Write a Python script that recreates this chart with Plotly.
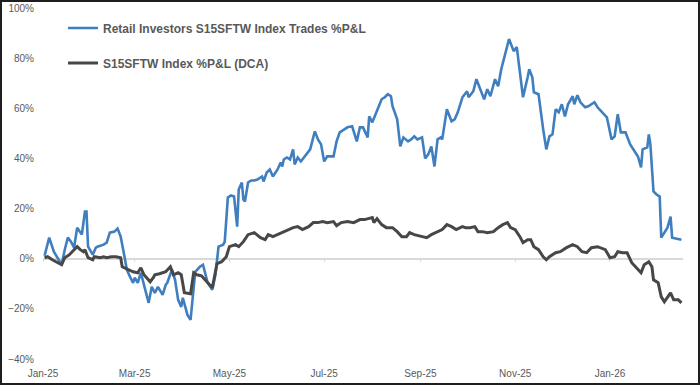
import pandas as pd
import plotly.graph_objects as go

START = "2025-01-01"

# Retail Investors S15SFTW Index Trades %P&L  (day = days since 2025-01-01)
blue_day = [1, 4, 7, 10, 12, 14, 16, 18, 20, 22, 24, 25, 27, 28, 29, 31, 32, 34, 35, 39,
            41, 43, 46, 48, 50, 52, 54, 56, 58, 59, 61, 63, 66, 68, 70, 72, 74, 77, 79, 80,
            83, 85, 87, 89, 90, 93, 95, 98, 101, 103, 106, 109, 111, 113, 116, 117, 119, 121, 123, 125,
            126, 128, 129, 130, 132, 134, 136, 138, 141, 142, 144, 146, 148, 151, 153, 154, 155, 157, 159, 161,
            162, 164, 166, 168, 170, 172, 175, 177, 179, 181, 183, 187, 189, 191, 194, 196, 199, 202, 204, 206,
            209, 210, 212, 214, 216, 218, 220, 222, 224, 225, 228, 230, 232, 235, 237, 239, 241, 244, 246, 248,
            250, 252, 254, 256, 257, 260, 263, 265, 267, 270, 273, 274, 277, 279, 281, 284, 286, 288, 291, 293,
            295, 297, 300, 303, 305, 307, 309, 312, 313, 315, 316, 319, 321, 322, 324, 326, 328, 330, 332, 334,
            336, 338, 341, 342, 344, 346, 349, 351, 355, 357, 363, 366, 368, 370, 372, 375, 378, 381, 383, 385,
            386, 389, 390, 391, 393, 395, 397, 398, 402, 404, 405, 408, 411]
blue_pct = [1.2, 8.4, 2.8, -0.4, -2.4, 3.6, 8.4, 6.8, 4.4, 12.4, 10.8, 9.6, 18.8, 18.8, 4.8, 2.8, 1.6, 4.4, 4.8, 5.6,
            6.4, 10.4, 10.8, 12.0, 8.8, 2.4, -4.4, -7.2, -9.6, -7.6, -9.6, -5.6, -12.4, -17.6, -11.2, -13.6, -11.2, -14.4, -10.4, -9.6,
            -4.4, -8.4, -16.4, -19.2, -15.6, -22.4, -24.4, -5.2, -3.2, -2.4, -9.6, -12.4, -6.4, 4.8, 5.6, 6.8, 24.4, 25.2, 24.8, 12.8,
            27.6, 30.4, 23.6, 22.8, 30.4, 31.2, 31.2, 31.6, 32.8, 30.8, 34.4, 35.6, 32.8, 35.6, 38.4, 36.8, 39.6, 40.4, 39.6, 43.6,
            37.6, 40.4, 38.8, 40.4, 41.6, 43.6, 50.8, 47.6, 45.6, 38.8, 40.8, 40.8, 46.8, 50.4, 51.6, 52.4, 52.8, 46.8, 52.4, 52.4,
            48.4, 56.8, 54.4, 57.6, 60.4, 63.6, 64.4, 65.6, 64.8, 60.8, 55.6, 44.8, 48.4, 46.8, 47.6, 48.8, 47.6, 48.4, 40.0, 41.6,
            44.8, 36.8, 47.6, 48.4, 47.6, 59.6, 54.8, 55.6, 58.4, 64.4, 66.8, 64.4, 66.8, 71.6, 68.4, 63.6, 67.6, 64.8, 71.6, 68.8,
            75.6, 80.8, 87.6, 82.8, 84.4, 74.4, 64.4, 72.4, 75.6, 72.4, 66.4, 65.6, 55.6, 51.6, 43.6, 48.8, 49.6, 59.6, 58.4, 61.6,
            56.8, 61.6, 64.8, 61.6, 65.2, 62.4, 60.4, 60.8, 62.4, 60.4, 56.4, 47.6, 48.8, 57.6, 50.4, 50.4, 45.6, 42.8, 40.8, 36.4,
            43.6, 44.4, 49.6, 45.6, 26.8, 25.6, 24.8, 8.4, 12.4, 16.8, 8.4, 8.0, 7.6]

# S15SFTW Index %P&L (DCA)
dca_day = [1, 3, 6, 10, 12, 14, 17, 20, 22, 24, 26, 27, 29, 32, 33, 37, 39, 41, 44, 47,
           50, 51, 55, 58, 61, 63, 65, 68, 69, 71, 72, 75, 79, 82, 84, 87, 89, 91, 95, 97,
           99, 102, 106, 109, 112, 115, 118, 120, 124, 126, 129, 132, 136, 140, 143, 145, 148, 151, 154, 158,
           161, 164, 167, 171, 174, 177, 180, 183, 187, 189, 192, 196, 200, 204, 207, 212, 213, 215, 218, 221,
           225, 228, 231, 234, 236, 239, 244, 247, 250, 254, 257, 260, 263, 266, 270, 272, 275, 278, 280, 283,
           286, 290, 293, 296, 299, 301, 304, 307, 309, 312, 314, 316, 319, 322, 324, 326, 330, 333, 337, 341,
           344, 347, 350, 353, 357, 362, 365, 368, 370, 373, 376, 379, 382, 385, 387, 390, 392, 393, 396, 398,
           400, 402, 404, 406, 409, 411]
dca_pct = [0.4, 0.8, -0.4, -1.6, -2.4, 0.4, 1.6, 3.6, 4.8, 3.6, 2.8, 3.6, 0.4, -0.4, 0.8, 0.4, 0.8, 0.4, 0.8, 0.8,
           0.4, -3.2, -4.4, -5.2, -5.6, -3.6, -6.4, -8.8, -9.2, -7.6, -6.4, -6.0, -5.2, -3.2, -6.4, -5.6, -6.4, -13.6, -14.0, -5.6,
           -6.4, -6.8, -9.6, -11.6, -2.0, -1.2, 0.8, 4.8, 5.6, 4.8, 6.8, 9.6, 10.4, 8.4, 7.6, 9.6, 8.8, 9.6, 10.4, 11.6,
           12.4, 12.8, 11.6, 12.8, 14.4, 14.4, 14.8, 14.4, 14.8, 13.2, 14.4, 14.8, 14.4, 15.6, 15.6, 16.4, 14.4, 16.0, 13.6, 12.4,
           12.4, 10.8, 8.8, 8.8, 10.4, 9.6, 8.8, 8.4, 9.6, 10.8, 11.6, 13.6, 12.8, 11.6, 12.8, 12.4, 12.4, 12.8, 10.8, 10.8,
           10.4, 10.8, 12.4, 13.6, 14.4, 12.4, 11.6, 8.8, 6.4, 7.6, 7.6, 4.8, 3.6, 0.8, -0.4, 0.8, 2.4, 2.8, 4.4, 5.6,
           4.8, 2.8, 2.4, 4.4, 4.8, 3.6, 0.4, 0.8, 2.8, 2.4, 2.4, -1.6, -3.6, -5.6, -2.4, -1.2, -3.2, -8.4, -9.6, -15.2,
           -17.2, -15.2, -13.6, -16.4, -16.4, -17.6]

blue_name = "Retail Investors S15SFTW Index Trades %P&L"
dca_name = "S15SFTW Index %P&L (DCA)"

y_ticks = [-40, -20, 0, 20, 40, 60, 80, 100]
x_range = ["2025-01-01", "2026-02-17"]

t0 = pd.Timestamp(START)
blue_x = t0 + pd.to_timedelta(blue_day, unit="D")
dca_x = t0 + pd.to_timedelta(dca_day, unit="D")

fig = go.Figure()
fig.add_trace(go.Scatter(x=blue_x, y=[v / 100 for v in blue_pct], mode="lines", name=blue_name,
                         line=dict(color="#3F7FBF", width=2.6), legend="legend"))
fig.add_trace(go.Scatter(x=dca_x, y=[v / 100 for v in dca_pct], mode="lines", name=dca_name,
                         line=dict(color="#474747", width=3), legend="legend2"))
# carrier for the zero-crossing axis
fig.add_trace(go.Scatter(x=[blue_x[0]], y=[0], xaxis="x2", mode="markers",
                         marker=dict(opacity=0), showlegend=False, hoverinfo="skip"))

tick_font = dict(family="Liberation Sans, Arial, sans-serif", size=10, color="#595959")
leg_font = dict(family="Liberation Sans, Arial, sans-serif", size=12, color="#595959", weight="bold")

fig.update_layout(
    width=700, height=385,
    margin=dict(l=43, r=17, t=8, b=26),
    paper_bgcolor="white", plot_bgcolor="white",
    xaxis=dict(type="date", range=x_range, dtick="M2", tick0="2025-01-01", tickformat="%b-%y",
               showgrid=False, zeroline=False, showline=False, ticks="", tickfont=tick_font,
               ticklabelstandoff=7, automargin=False),
    xaxis2=dict(type="date", range=x_range, dtick="M2", tick0="2025-01-01", overlaying="x", matches="x",
                anchor="free", position=40 / 140, showline=True, linecolor="#D9D9D9", linewidth=1.5,
                ticks="outside", ticklen=3, tickcolor="#D9D9D9", showticklabels=False,
                showgrid=False, zeroline=False, layer="below traces"),
    yaxis=dict(range=[-0.4, 1.0], tickvals=[v / 100 for v in y_ticks], tickformat=".0%",
               showgrid=False, zeroline=False, showline=False, ticks="", tickfont=tick_font,
               ticklabelstandoff=8, automargin=False),
    legend=dict(x=(63 - 43) / 640, y=1 - (28 - 8) / 351, xanchor="left", yanchor="middle",
                bgcolor="rgba(0,0,0,0)", font=leg_font, itemwidth=30),
    legend2=dict(x=(63 - 43) / 640, y=1 - (63 - 8) / 351, xanchor="left", yanchor="middle",
                 bgcolor="rgba(0,0,0,0)", font=leg_font, itemwidth=30),
    showlegend=True,
    shapes=[dict(type="rect", xref="paper", yref="paper",
                 x0=-43 / 640, x1=657 / 640, y0=-26 / 351, y1=1 + 8 / 351,
                 line=dict(color="#1E1E1E", width=4), fillcolor="rgba(0,0,0,0)", layer="above")],
)

fig.write_html("out.html", config={"displayModeBar": False}, post_script=(
    "document.documentElement.style.margin='0';document.documentElement.style.padding='0';"
    "document.body.style.margin='0';document.body.style.padding='0';document.body.style.overflow='hidden';"
))
